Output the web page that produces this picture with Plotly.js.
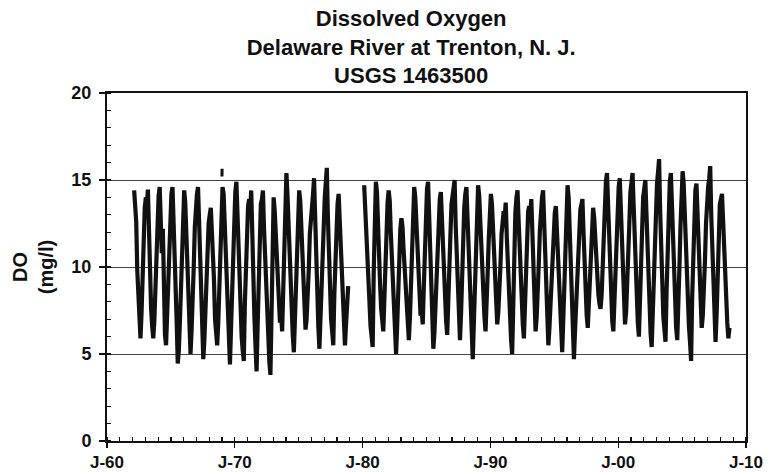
<!DOCTYPE html>
<html>
<head>
<meta charset="utf-8">
<script src="https://cdn.plot.ly/plotly-3.0.1.min.js"></script>
<style>html,body{margin:0;padding:0;background:#fff;}#chart{width:770px;height:472px;}</style>
</head>
<body>
<div id="chart"></div>
<script>
// Monthly dissolved oxygen (mg/l), Jan..Dec for each year of the decade; null = no data
const do1960s = [
  null,null,null,null,null,null,null,null,null,null,null,null, // 1960
  null,null,null,null,null,null,null,null,null,null,null,null, // 1961
  null,14.4,13.2,12.6,9.8,8.1,7.0,5.9,7.4,9.6,11.9,13.4,       // 1962
  14.0,13.6,14.45,11.2,10.1,7.6,6.6,5.9,6.9,9.2,11.4,13.1,     // 1963
  14.1,14.6,12.9,10.8,12.2,8.4,6.1,5.5,7.2,8.8,11.6,13.6,      // 1964
  14.2,14.6,13.1,11.0,8.9,6.8,4.45,5.2,6.9,9.0,11.8,13.0,      // 1965
  14.4,13.7,12.3,10.2,9.1,6.7,5.0,6.4,7.8,10.0,12.3,13.9,      // 1966
  14.2,14.6,13.0,11.3,8.4,6.9,4.7,5.8,7.7,9.6,11.8,12.5,       // 1967
  13.0,13.4,12.1,10.9,9.3,7.0,6.3,5.5,6.8,8.9,10.8,12.9,       // 1968
  14.6,14.2,12.6,11.1,9.5,7.2,5.6,4.4,6.5,8.7,11.4,13.5        // 1969
];
const do1970s = [
  14.3,14.9,13.0,11.2,9.2,7.8,6.0,5.2,4.6,7.9,10.4,12.6,       // 1970
  13.5,13.9,13.2,14.4,11.3,9.0,7.1,5.5,4.0,6.6,9.6,12.2,       // 1971
  13.6,13.9,14.4,12.2,10.4,8.8,7.4,5.6,4.5,3.8,8.3,11.8,       // 1972
  14.0,13.2,11.8,10.0,8.8,7.7,6.8,7.3,6.3,8.6,11.2,13.6,       // 1973
  15.4,14.1,12.4,10.8,9.4,7.5,6.1,5.1,6.9,9.2,11.6,13.4,       // 1974
  14.4,13.8,12.3,10.5,8.9,7.6,6.4,7.0,8.1,9.8,11.9,13.0,       // 1975
  13.7,14.2,15.1,12.6,10.4,8.1,6.6,5.3,7.0,9.3,11.5,13.4,      // 1976
  14.0,14.9,15.7,12.8,10.6,8.7,7.0,6.3,5.5,8.4,10.9,12.7,      // 1977
  13.6,14.2,12.9,11.4,9.9,8.2,6.5,5.5,6.7,7.6,8.9,null,        // 1978
  null,null,null,null,null,null,null,null,null,null,null,null  // 1979
];
const do1980s = [
  null,14.7,13.4,11.5,10.0,8.3,7.2,6.6,6.0,5.4,9.8,13.1,       // 1980
  14.9,14.3,12.2,10.6,9.0,7.6,6.8,6.3,8.2,10.7,12.6,13.7,      // 1981
  14.4,13.8,12.1,10.4,9.0,7.4,6.1,5.0,6.6,8.9,11.0,12.2,       // 1982
  12.8,12.3,11.1,9.9,8.4,7.2,6.4,5.8,7.1,9.3,11.6,13.5,        // 1983
  14.6,14.0,12.5,10.9,9.7,8.3,7.2,7.6,6.7,8.8,11.4,13.7,       // 1984
  14.5,14.9,12.8,10.7,8.8,6.9,5.3,6.2,7.9,9.8,11.7,13.2,       // 1985
  13.9,14.3,12.6,10.8,9.1,7.9,6.9,6.1,7.6,9.5,11.8,13.6,       // 1986
  14.1,14.6,15.0,12.4,10.5,8.2,6.7,5.8,7.3,9.6,11.9,13.4,      // 1987
  14.2,14.6,13.0,11.2,9.3,7.1,5.9,4.7,6.8,9.0,11.5,13.6,       // 1988
  14.7,14.1,12.6,10.9,9.4,8.0,7.1,6.3,7.5,9.7,11.6,13.3        // 1989
];
const do1990s = [
  14.2,13.6,12.2,10.6,8.8,7.7,6.7,7.4,8.5,10.1,11.9,12.8,      // 1990
  13.2,12.9,13.7,11.7,9.8,7.9,6.6,5.8,5.0,8.1,10.9,13.1,       // 1991
  14.0,14.4,12.8,11.0,9.3,7.8,6.7,5.9,7.6,9.7,12.0,13.2,       // 1992
  13.5,13.1,13.9,11.6,9.4,7.5,6.3,7.1,8.3,10.2,12.1,13.6,      // 1993
  14.0,14.4,12.7,10.8,8.9,7.0,5.5,6.5,8.0,9.9,11.3,12.7,       // 1994
  13.1,13.5,12.2,10.7,9.1,7.3,6.0,5.1,7.0,9.3,11.8,13.9,       // 1995
  14.7,14.0,12.4,10.5,8.6,6.8,4.7,6.3,7.8,9.6,11.5,12.9,       // 1996
  13.3,13.6,13.9,12.0,10.1,8.3,7.2,6.5,7.8,9.4,11.2,12.6,      // 1997
  13.4,12.8,11.6,10.3,9.2,8.4,7.9,7.6,8.4,10.2,12.4,14.3,      // 1998
  14.9,15.4,13.6,11.5,9.6,8.0,6.9,6.3,7.9,9.9,12.2,14.1        // 1999
];
const do2000s = [
  14.6,15.1,13.4,11.3,9.5,7.9,6.7,7.4,8.7,10.3,12.5,14.3,      // 2000
  14.9,15.4,13.7,11.6,9.6,7.8,6.8,6.0,7.6,9.8,12.1,14.0,       // 2001
  14.6,15.0,13.3,11.2,9.4,7.6,6.2,5.4,7.3,9.5,12.0,13.9,       // 2002
  14.8,15.5,16.2,13.2,10.9,8.8,7.1,6.4,5.7,8.6,11.6,14.2,      // 2003
  14.9,15.4,13.6,11.4,9.5,7.6,6.5,5.8,7.4,9.9,12.3,14.4,       // 2004
  15.5,14.8,13.0,11.2,9.4,7.8,6.6,5.7,4.6,8.2,11.3,13.6,       // 2005
  14.4,14.8,13.0,11.0,9.1,7.5,6.5,7.2,8.4,10.3,12.5,14.2,      // 2006
  14.6,15.1,15.8,12.9,10.7,8.6,6.9,5.7,7.3,9.8,12.1,13.6,      // 2007
  13.9,14.2,12.8,11.0,9.3,7.9,6.8,5.9,6.5,null,null,null       // 2008
];
const decadeStarts = [1960, 1970, 1980, 1990, 2000];
const decadeSeries = [do1960s, do1970s, do1980s, do1990s, do2000s];

// isolated reading near Jan 1969
const isoDates = ['1968-12-29', '1969-01-03'];
const isoValues = [15.2, 15.65];

const xTickVals = ['1960-01-01','1970-01-01','1980-01-01','1990-01-01','2000-01-01','2010-01-01'];
const xTickText = ['J-60','J-70','J-80','J-90','J-00','J-10'];
const yTickVals = [0, 5, 10, 15, 20];

const dates = [], values = [];
decadeSeries.forEach((arr, d) => {
  arr.forEach((v, i) => {
    const yr = decadeStarts[d] + Math.floor(i / 12);
    const mo = (i % 12) + 1;
    dates.push(yr + '-' + String(mo).padStart(2, '0') + '-15');
    values.push(v);
  });
});

const font = {family: 'Liberation Sans, Arial, sans-serif', color: '#111'};

const traces = [
  {x: dates, y: values, type: 'scatter', mode: 'lines', connectgaps: false,
   line: {color: '#111', width: 4.2}, hoverinfo: 'x+y'},
  {x: isoDates, y: isoValues, type: 'scatter', mode: 'lines',
   line: {color: '#111', width: 3}, hoverinfo: 'x+y'}
];

const layout = {
  width: 770, height: 472,
  margin: {l: 107, r: 24, t: 93, b: 31},
  paper_bgcolor: '#fff', plot_bgcolor: '#fff',
  showlegend: false,
  font: Object.assign({size: 18}, font),
  title: {
    text: '<b>Dissolved Oxygen</b><br><b>Delaware River at Trenton, N. J.</b><br><b>USGS 1463500</b>',
    font: Object.assign({size: 22, weight: 'bold'}, font),
    xref: 'paper', x: 0.476, xanchor: 'center',
    yref: 'container', y: 0.945, yanchor: 'top'
  },
  xaxis: {
    type: 'date',
    range: ['1960-01-01', '2010-01-01'],
    tickmode: 'array', tickvals: xTickVals, ticktext: xTickText,
    ticks: 'outside', ticklen: 5, tickwidth: 1.2, tickcolor: '#111',
    showline: true, linecolor: '#111', linewidth: 2, mirror: true,
    showgrid: false, zeroline: false,
    tickfont: Object.assign({size: 17, weight: 'bold'}, font),
    minor: {dtick: 'M12', tick0: '1960-01-01', ticks: 'inside', ticklen: 4, tickcolor: '#111', showgrid: false}
  },
  yaxis: {
    range: [0, 20],
    tickmode: 'array', tickvals: yTickVals,
    ticks: 'outside', ticklen: 6, tickwidth: 1.2, tickcolor: '#111',
    ticklabelstandoff: 4,
    showline: true, linecolor: '#111', linewidth: 2, mirror: true,
    showgrid: true, gridcolor: '#444', gridwidth: 1, zeroline: false,
    tickfont: Object.assign({size: 18, weight: 'bold'}, font),
    minor: {dtick: 1, ticks: 'inside', ticklen: 4, tickcolor: '#111', showgrid: false},
    title: {text: '<b>DO<br>(mg/l)</b>', font: Object.assign({size: 20, weight: 'bold'}, font), standoff: 12}
  }
};

Plotly.newPlot('chart', traces, layout, {displayModeBar: false, staticPlot: true});
</script>
</body>
</html>
